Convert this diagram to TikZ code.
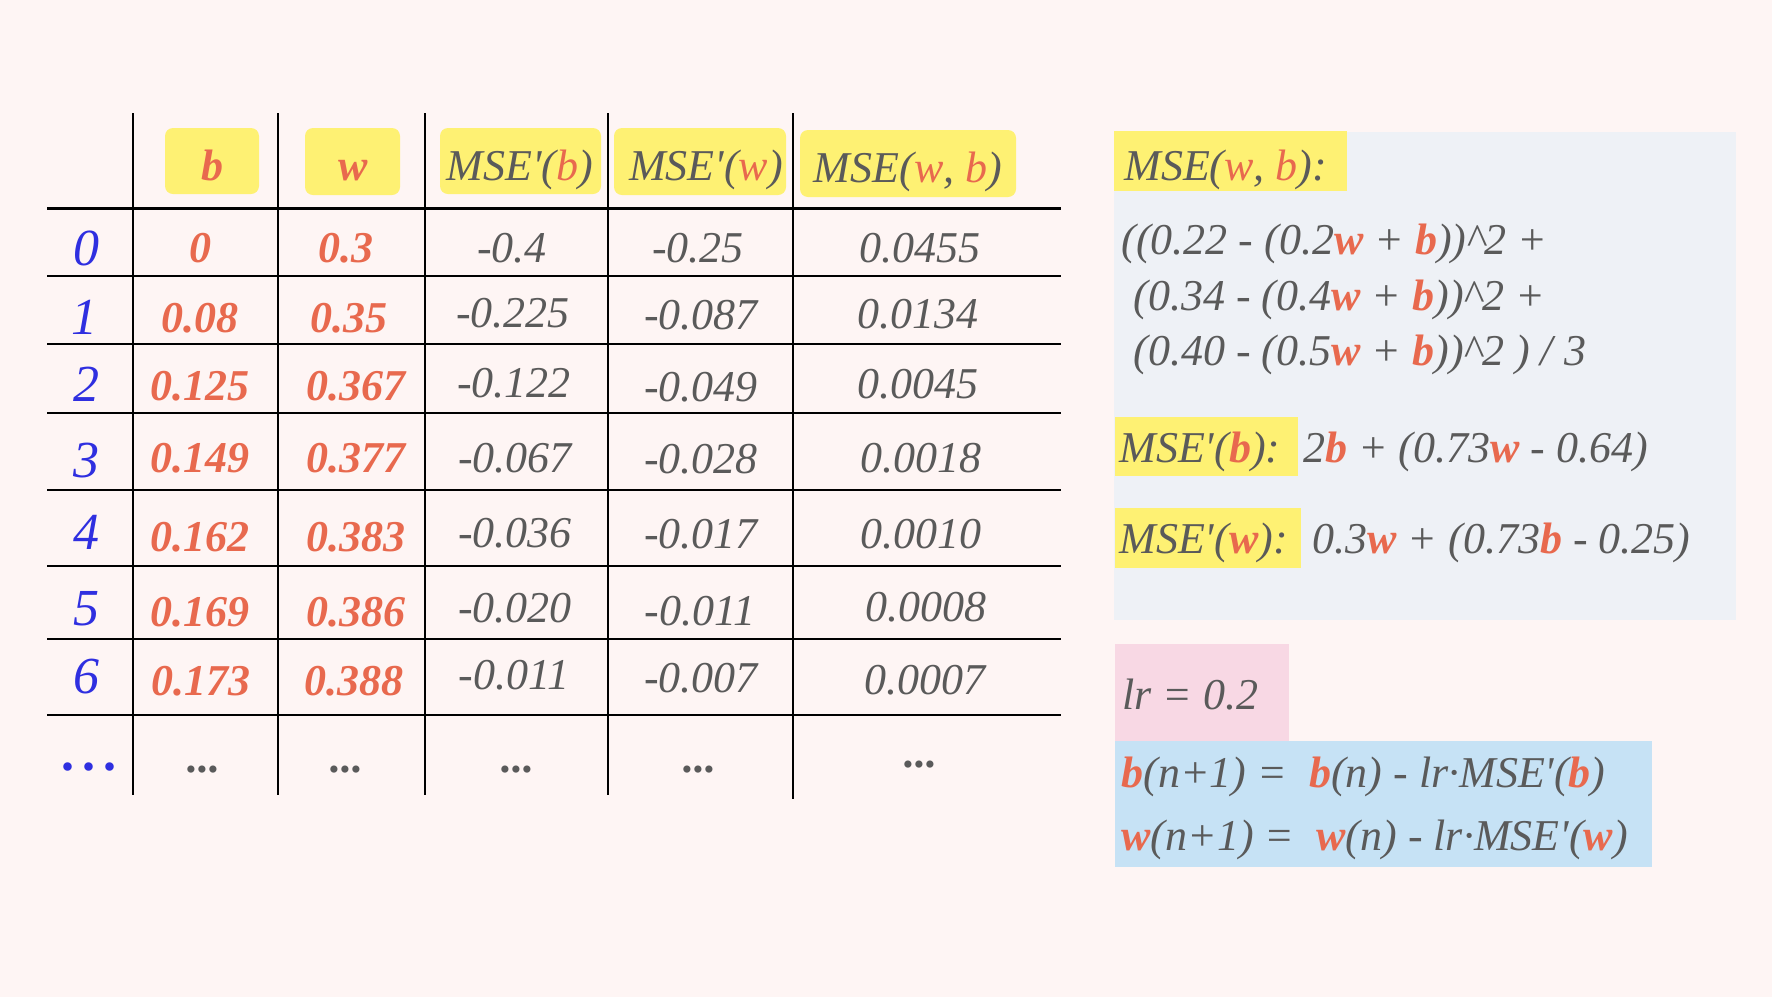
\documentclass[tikz,border=0pt]{standalone}
\usepackage{fontspec}
\setmainfont{Liberation Serif}
\usetikzlibrary{positioning}

\definecolor{bgpink}{HTML}{FEF5F4}
\definecolor{hlyellow}{HTML}{FEF173}
\definecolor{wbred}{HTML}{E8694E}
\definecolor{txtgrey}{HTML}{5A5A5A}
\definecolor{idxblue}{HTML}{2F2FE0}
\definecolor{panelgrey}{HTML}{EEF1F6}
\definecolor{lrpink}{HTML}{F8D8E4}
\definecolor{updblue}{HTML}{C6E2F5}

\newcommand{\varb}{\textbf{\textcolor{wbred}{b}}}
\newcommand{\varw}{\textbf{\textcolor{wbred}{w}}}
\newcommand{\thinb}{\textcolor{wbred}{b}}
\newcommand{\thinw}{\textcolor{wbred}{w}}
\newcommand{\prm}{\textquotesingle}
\newcommand{\sq}{\textasciicircum}

\begin{document}
\begin{tikzpicture}[x=0.5pt, y=-0.5pt,
    txt/.style={font=\fontsize{22pt}{26pt}\selectfont\itshape, text=txtgrey, inner sep=0pt, anchor=base},
    val/.style={txt, font=\fontsize{22pt}{26pt}\selectfont\itshape\bfseries, text=wbred},
    idx/.style={txt, font=\fontsize{26pt}{30pt}\selectfont\itshape, text=idxblue},
    expr/.style={txt, anchor=base west},
    hl/.style={fill=hlyellow}]

    % Background
    \fill[bgpink] (0,0) rectangle (1772,997);
    \useasboundingbox (0,0) rectangle (1772,997);

    % Right panel boxes
    \fill[panelgrey] (1114,132) rectangle (1736,620);
    \fill[hl] (1114,131) rectangle (1347,191);
    \fill[hl] (1115,417) rectangle (1298,476);
    \fill[hl] (1115,508) rectangle (1301,568);
    \fill[lrpink] (1115,644) rectangle (1289,741);
    \fill[updblue] (1115,741) rectangle (1652,804);
    \fill[updblue] (1115,804) rectangle (1652,867);

    % Header highlights
    \fill[hl, rounded corners=4pt] (165,128) rectangle (259,194);
    \fill[hl, rounded corners=4pt] (305,128) rectangle (400,195);
    \fill[hl, rounded corners=4pt] (440,128) rectangle (601,194);
    \fill[hl, rounded corners=4pt] (614,128) rectangle (786,195);
    \fill[hl, rounded corners=4pt] (800,130) rectangle (1016,197);

    % Table rules
    \draw[line width=1.5pt] (47,208) -- (1061,208);
    \draw[line width=1pt] (47,276) -- (1061,276);
    \draw[line width=1pt] (47,344) -- (1061,344);
    \draw[line width=1pt] (47,413) -- (1061,413);
    \draw[line width=1pt] (47,490) -- (1061,490);
    \draw[line width=1pt] (47,566) -- (1061,566);
    \draw[line width=1pt] (47,639) -- (1061,639);
    \draw[line width=1pt] (47,715) -- (1061,715);
    \draw[line width=1pt] (133,113) -- (133,795);
    \draw[line width=1pt] (278,113) -- (278,795);
    \draw[line width=1pt] (425,113) -- (425,795);
    \draw[line width=1pt] (608,113) -- (608,795);
    \draw[line width=1pt] (793,113) -- (793,799);

    % Header labels
    \node[val] (hb) at (212,180) {b};
    \node[val] (hw) at (353,180) {w};
    \node[txt] (hdb) at (520,180) {MSE\prm(\thinb)};
    \node[txt] (hdw) at (706,180) {MSE\prm(\thinw)};
    \node[txt] (hmse) at (908,182) {MSE(\thinw, \thinb)};

    % Row 0
    \node[idx] (n0) at (86,265) {0};
    \node[val] (b0) at (200,262) {0};
    \node[val] (w0) at (346,262) {0.3};
    \node[txt] (db0) at (512,262) {-0.4};
    \node[txt] (dw0) at (698,262) {-0.25};
    \node[txt] (m0) at (920,262) {0.0455};

    % Row 1
    \node[idx] (n1) at (84,334) {1};
    \node[val] (b1) at (200,332) {0.08};
    \node[val] (w1) at (349,332) {0.35};
    \node[txt] (db1) at (513,327) {-0.225};
    \node[txt] (dw1) at (701,329) {-0.087};
    \node[txt] (m1) at (918,328) {0.0134};

    % Row 2
    \node[idx] (n2) at (86,401) {2};
    \node[val] (b2) at (200,400) {0.125};
    \node[val] (w2) at (356,400) {0.367};
    \node[txt] (db2) at (514,397) {-0.122};
    \node[txt] (dw2) at (701,401) {-0.049};
    \node[txt] (m2) at (918,398) {0.0045};

    % Row 3
    \node[idx] (n3) at (86,477) {3};
    \node[val] (b3) at (200,472) {0.149};
    \node[val] (w3) at (356,472) {0.377};
    \node[txt] (db3) at (515,472) {-0.067};
    \node[txt] (dw3) at (701,473) {-0.028};
    \node[txt] (m3) at (921,472) {0.0018};

    % Row 4
    \node[idx] (n4) at (86,549) {4};
    \node[val] (b4) at (200,551) {0.162};
    \node[val] (w4) at (356,551) {0.383};
    \node[txt] (db4) at (515,547) {-0.036};
    \node[txt] (dw4) at (701,548) {-0.017};
    \node[txt] (m4) at (921,548) {0.0010};

    % Row 5
    \node[idx] (n5) at (86,625) {5};
    \node[val] (b5) at (200,626) {0.169};
    \node[val] (w5) at (356,626) {0.386};
    \node[txt] (db5) at (515,622) {-0.020};
    \node[txt] (dw5) at (700,625) {-0.011};
    \node[txt] (m5) at (926,621) {0.0008};

    % Row 6
    \node[idx] (n6) at (86,693) {6};
    \node[val] (b6) at (201,695) {0.173};
    \node[val] (w6) at (354,695) {0.388};
    \node[txt] (db6) at (514,689) {-0.011};
    \node[txt] (dw6) at (701,692) {-0.007};
    \node[txt] (m6) at (925,694) {0.0007};

    % Continuation row
    \node[idx, font=\fontsize{26pt}{30pt}\selectfont\bfseries] (n7) at (89,770) {.\hspace{4pt}.\hspace{4pt}.};
    \node[txt] (b7) at (204,772) {\textbf{...}};
    \node[txt] (w7) at (347,772) {\textbf{...}};
    \node[txt] (db7) at (518,772) {\textbf{...}};
    \node[txt] (dw7) at (700,772) {\textbf{...}};
    \node[txt] (m7) at (921,767) {\textbf{...}};

    % Loss and gradients
    \node[expr] (fmse) at (1124,180) {MSE(\thinw, \thinb):};
    \node[expr] (f1) at (1121,254) {((0.22 - (0.2\varw{} + \varb))\sq2 +};
    \node[expr] (f2) at (1133,310) {(0.34 - (0.4\varw{} + \varb))\sq2 +};
    \node[expr] (f3) at (1133,365) {(0.40 - (0.5\varw{} + \varb))\sq2 ) / 3};
    \node[expr] (lmb) at (1119,462) {MSE\prm(\varb):};
    \node[expr, base right=11pt of lmb] (gb) {2\varb{} + (0.73\varw{} - 0.64)};
    \node[expr] (lmw) at (1119,553) {MSE\prm(\varw):};
    \node[expr, base right=12pt of lmw] (gw) {0.3\varw{} + (0.73\varb{} - 0.25)};

    % Learning rate and update rule
    \node[expr] (lr) at (1122,709) {lr = 0.2};
    \node[expr] (ub) at (1121,787) {\varb(n+1) =~~\varb(n) - lr·MSE\prm(\varb)};
    \node[expr] (uw) at (1121,850) {\varw(n+1) =~~\varw(n) - lr·MSE\prm(\varw)};
\end{tikzpicture}
\end{document}
